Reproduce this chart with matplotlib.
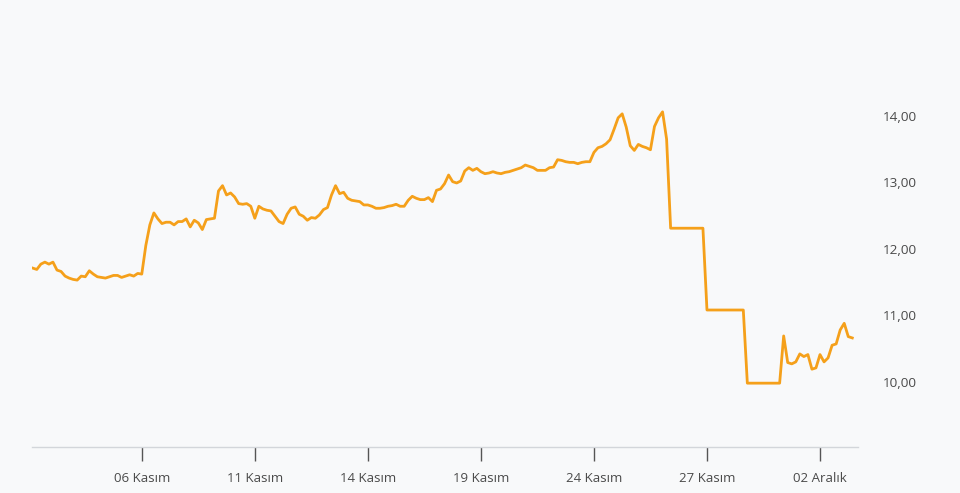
import matplotlib
matplotlib.use("Agg")
import matplotlib.pyplot as plt
import numpy as np

# price series, one value per session step
price = [
    11.71, 11.69, 11.77, 11.80, 11.77, 11.80, 11.68, 11.66, 11.59, 11.56,
    11.54, 11.53, 11.59, 11.58, 11.67, 11.62, 11.58, 11.57, 11.56, 11.58,
    11.60, 11.60, 11.57, 11.59, 11.61, 11.59, 11.63, 11.62, 12.05, 12.36,
    12.54, 12.45, 12.38, 12.40, 12.40, 12.36, 12.41, 12.41, 12.45, 12.33,
    12.43, 12.39, 12.29, 12.44, 12.45, 12.46, 12.87, 12.95, 12.81, 12.84,
    12.78, 12.68, 12.67, 12.68, 12.64, 12.46, 12.64, 12.60, 12.58, 12.57,
    12.49, 12.41, 12.38, 12.52, 12.61, 12.63, 12.52, 12.49, 12.43, 12.47,
    12.46, 12.51, 12.59, 12.62, 12.81, 12.95, 12.83, 12.85, 12.76, 12.73,
    12.72, 12.71, 12.66, 12.66, 12.64, 12.61, 12.61, 12.62, 12.64, 12.65,
    12.67, 12.64, 12.64, 12.73, 12.79, 12.76, 12.74, 12.74, 12.77, 12.71,
    12.88, 12.90, 12.98, 13.11, 13.01, 12.99, 13.02, 13.17, 13.22, 13.18,
    13.21, 13.16, 13.13, 13.14, 13.16, 13.14, 13.13, 13.15, 13.16, 13.18,
    13.20, 13.22, 13.26, 13.24, 13.22, 13.18, 13.18, 13.18, 13.22, 13.23,
    13.34, 13.33, 13.31, 13.30, 13.30, 13.28, 13.30, 13.31, 13.31, 13.45,
    13.52, 13.54, 13.58, 13.64, 13.80, 13.97, 14.03, 13.83, 13.55, 13.48,
    13.57, 13.54, 13.52, 13.49, 13.84, 13.97, 14.06, 13.65, 12.31, 12.31,
    12.31, 12.31, 12.31, 12.31, 12.31, 12.31, 12.31, 11.08, 11.08, 11.08,
    11.08, 11.08, 11.08, 11.08, 11.08, 11.08, 11.08, 9.98, 9.98, 9.98,
    9.98, 9.98, 9.98, 9.98, 9.98, 9.98, 10.69, 10.29, 10.27, 10.30,
    10.42, 10.38, 10.41, 10.19, 10.21, 10.41, 10.30, 10.36, 10.55, 10.57,
    10.78, 10.88, 10.68, 10.66,
]
tick_pos = [27, 55, 83, 111, 139, 167, 195]
tick_labels = ["06 Kasım", "11 Kasım", "14 Kasım", "19 Kasım",
               "24 Kasım", "27 Kasım", "02 Aralık"]
y_ticks = [10, 11, 12, 13, 14]

bg = "#f8f9fa"
plt.rcParams["font.family"] = ["Open Sans", "DejaVu Sans"]

fig = plt.figure(figsize=(9.6, 4.93), dpi=100, facecolor=bg)
ax = fig.add_axes([0.0333, 0.0933, 0.8604, 0.866])
ax.set_facecolor(bg)

x = np.arange(len(price))
ax.plot(x, price, color="#f5a01a", linewidth=2.0, solid_joinstyle="round")

ax.set_xlim(-0.2, 204.4)
ax.set_ylim(9.02, 15.44)

ax.set_xticks(tick_pos)
ax.set_xticklabels(tick_labels)
ax.set_yticks(y_ticks)
ax.set_yticklabels([f"{v:.2f}".replace(".", ",") for v in y_ticks])

ax.yaxis.tick_right()
ax.tick_params(axis="y", length=0, pad=18, labelsize=9.7, labelcolor="#4a4a4a")
ax.tick_params(axis="x", length=10, width=1, color="#555555", pad=8,
               labelsize=9.5, labelcolor="#4a4a4a")

for s in ["top", "left", "right"]:
    ax.spines[s].set_visible(False)
ax.spines["bottom"].set_color("#d3d6da")
ax.spines["bottom"].set_linewidth(1)

fig.savefig("out.png", dpi=100, facecolor=bg)
